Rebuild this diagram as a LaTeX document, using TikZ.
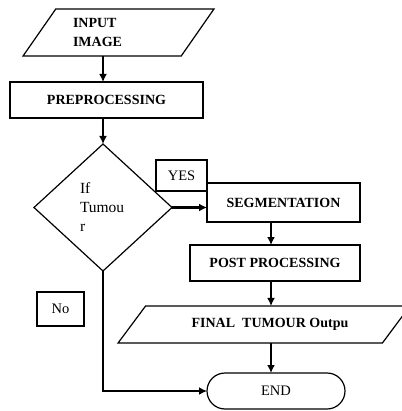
\documentclass[tikz,border=0pt]{standalone}
\usepackage{fontspec}
\setmainfont{Liberation Serif}
\usetikzlibrary{shapes,arrows.meta,positioning}
\tikzset{basic/.style={draw,line width=1.2pt,inner sep=0pt,outer sep=0pt,font=\fontsize{14.5}{19}\selectfont}}
\tikzset{bold/.style={basic,font=\fontsize{14}{19}\selectfont\bfseries}}
\tikzset{box/.style={rectangle}}
\tikzset{io/.style={trapezium,trapezium stretches=true}}
\tikzset{decide/.style={basic,diamond,align=left,font=\fontsize{15.5}{19}\selectfont}}
\tikzset{term/.style={basic,rounded rectangle}}
\tikzset{arrow/.style={draw,line width=2pt,>={Latex[length=8pt,width=8pt]}}}

\begin{document}
\begin{tikzpicture}[x=1pt,y=-1pt]
    \useasboundingbox (0,0) rectangle (401,411);
    \coordinate (spine) at (271,0);

    \node[bold,io,trapezium left angle=50,trapezium right angle=130,minimum width=191pt,minimum height=47pt,text width=91pt,align=left] (inimg) at (118.5,32.5) {INPUT\\IMAGE};
    \node[bold,box,minimum width=193pt,minimum height=36pt] (prep) at (106.5,100) {PREPROCESSING};
    \node[decide,minimum width=138pt,minimum height=127pt,text width=46pt] (tumour) at (103,207.5) {If\\Tumou\\r};
    \node[basic,box,minimum width=51pt,minimum height=31pt] (yes) at (181.5,175.5) {YES};
    \node[bold,box,minimum width=153pt,minimum height=39pt] (seg) at (283.5,202.5) {SEGMENTATION};
    \node[bold,box,minimum width=170pt,minimum height=36pt] (post) at (275,263) {POST PROCESSING};
    \node[bold,io,trapezium left angle=32,trapezium right angle=148,minimum width=292pt,minimum height=37pt] (final) at (264,324.5) {\hspace*{12pt}FINAL\ \ TUMOUR Outpu};
    \node[term,minimum width=138pt,minimum height=36pt] (stop) at (276,391) {END};
    \node[basic,box,minimum width=47pt,minimum height=34pt] (no) at (60.5,309) {No};

        \path[arrow,->] (inimg.south -| tumour) -- (prep.north -| tumour);
        \path[arrow,->] (prep.south -| tumour) -- (tumour.north);
        \path[arrow,->,line width=3pt] (tumour.east) -- (tumour.east -| seg.west);
        \path[arrow,->] (seg.south -| spine) -- (post.north -| spine);
        \path[arrow,->] (post.south -| spine) -- (final.north -| spine);
        \path[arrow,->] (final.south -| spine) -- (stop.north -| spine);
        \path[arrow,->] (tumour.south) |- (stop.west);
\end{tikzpicture}
\end{document}
